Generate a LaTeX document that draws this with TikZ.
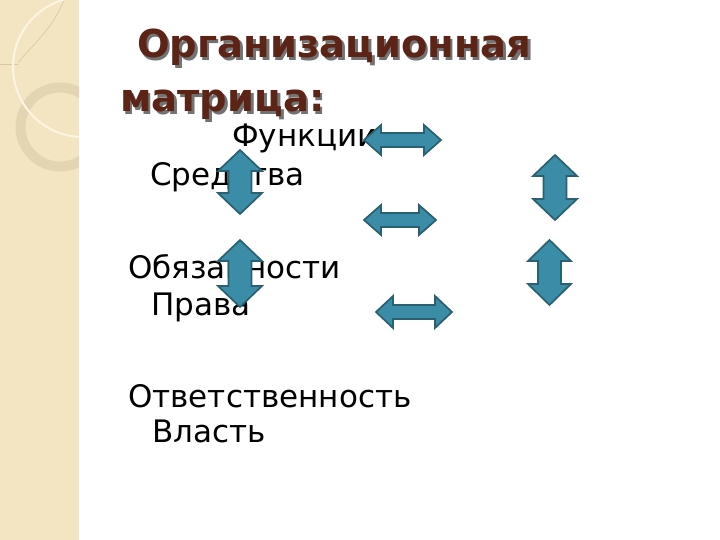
\documentclass[tikz,border=0pt]{standalone}
\usepackage{fontspec}
\setmainfont{DejaVu Sans}
\definecolor{strip}{HTML}{F3E4C2}
\definecolor{stripline}{HTML}{FCF5E2}
\definecolor{ringc}{HTML}{E4D5B2}
\definecolor{thinl}{HTML}{D9C7A0}
\definecolor{titlec}{HTML}{5C2417}
\definecolor{arrfill}{HTML}{3B8CA6}
\definecolor{arrdraw}{HTML}{2A6070}
\tikzset{
  arrowshape/.style={fill=arrfill, draw=arrdraw, line width=1.7pt, line join=miter},
  bodytext/.style={anchor=base west, inner sep=0pt, font=\fontsize{31}{31}\selectfont, text=black},
  titletext/.style={anchor=base west, inner sep=0pt, font=\fontsize{38.5}{38.5}\selectfont\bfseries, text=titlec},
  titleshadow/.style={anchor=base west, inner sep=0pt, font=\fontsize{38.5}{38.5}\selectfont\bfseries, text=black!55}
}
% horizontal double arrow: name, cx, cy, half length, half height, head length, half shaft
\newcommand\HArr[7]{%
  \draw[arrowshape] ({#2-#4},#3) -- ({#2-#4+#6},{#3-#5}) -- ({#2-#4+#6},{#3-#7}) -- ({#2+#4-#6},{#3-#7}) -- ({#2+#4-#6},{#3-#5}) -- ({#2+#4},#3) -- ({#2+#4-#6},{#3+#5}) -- ({#2+#4-#6},{#3+#7}) -- ({#2-#4+#6},{#3+#7}) -- ({#2-#4+#6},{#3+#5}) -- cycle;
  \coordinate (#1) at (#2,#3);}
% vertical double arrow: name, cx, cy, half length, half width, head length, half shaft
\newcommand\VArr[7]{%
  \draw[arrowshape] (#2,{#3-#4}) -- ({#2+#5},{#3-#4+#6}) -- ({#2+#7},{#3-#4+#6}) -- ({#2+#7},{#3+#4-#6}) -- ({#2+#5},{#3+#4-#6}) -- (#2,{#3+#4}) -- ({#2-#5},{#3+#4-#6}) -- ({#2-#7},{#3+#4-#6}) -- ({#2-#7},{#3-#4+#6}) -- ({#2-#5},{#3-#4+#6}) -- cycle;
  \coordinate (#1) at (#2,#3);}
\begin{document}
\begin{tikzpicture}[x=1pt,y=-1pt]
\useasboundingbox (0,0) rectangle (720,540);
\fill[white] (0,0) rectangle (720,540);
% decorative strip
\fill[strip] (0,0) rectangle (79,540);
\begin{scope}
  \clip (0,0) rectangle (79,540);
  \draw[thinl, line width=0.6pt] (0,64) -- (18,64);
  \draw[thinl, line width=0.6pt] (18,63) .. controls (32,45) and (52,30) .. (64,0);
  \draw[ringc, line width=10pt] (60,127) circle (39.5);
  \draw[stripline, line width=2pt] (83,67) circle (70);
\end{scope}
% title
\node[titleshadow] at (139.5,60.5) {Организационная};
\node[titletext] (t1) at (137,58) {Организационная};
\node[titleshadow] at (122.5,114.5) {матрица:};
\node[titletext] (t2) at (120,112) {матрица:};
% body text
\node[bodytext] (f) at (232,147) {Функции};
\node[bodytext] (s) at (150,186) {Средства};
\node[bodytext] (o) at (128,278) {Обязанности};
\node[bodytext] (p) at (151,315) {Права};
\node[bodytext] (r) at (128,407) {Ответственность};
\node[bodytext] (v) at (152,442) {Власть};
% arrows
\HArr{h1}{402.5}{140}{38.5}{15}{17}{7}
\HArr{h2}{400}{220}{36}{15}{17}{7}
\HArr{h3}{414}{312}{38}{16}{17}{7}
\VArr{v1}{240}{182}{32}{22}{21}{11.5}
\VArr{v2}{240}{273.5}{33.5}{22}{21}{11.5}
\VArr{v3}{555}{187.5}{32.5}{22}{21}{11.5}
\VArr{v4}{549.5}{272.5}{32.5}{21.5}{21}{11.5}
\end{tikzpicture}
\end{document}
